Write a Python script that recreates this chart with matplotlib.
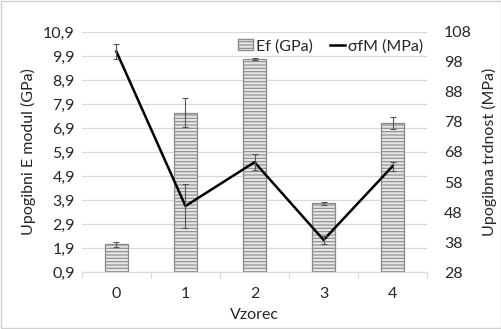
import matplotlib.pyplot as plt
import matplotlib.patches as mpatches
from matplotlib.lines import Line2D
import numpy as np

plt.rcParams["font.family"] = ["Lato", "DejaVu Sans"]
plt.rcParams["hatch.color"] = "#9a9a9a"
plt.rcParams["hatch.linewidth"] = 0.8

samples = ["0", "1", "2", "3", "4"]
ef_gpa = [2.05, 7.54, 9.78, 3.76, 7.12]
ef_err = [0.12, 0.61, 0.03, 0.05, 0.25]
sigma_mpa = [101.5, 50.0, 64.6, 38.7, 63.3]
sigma_err = [2.4, 7.2, 2.7, 1.3, 1.5]

left_ticks = [0.9 + i for i in range(11)]
right_ticks = [28 + 10 * i for i in range(9)]

text_color = "#262626"
grid_color = "#d9d9d9"

fig = plt.figure(figsize=(5.02, 3.29), dpi=100)
fig.patches.append(mpatches.Rectangle((0.002, 0.003), 0.996, 0.994, transform=fig.transFigure,
                                      fill=False, edgecolor="#d0d0d0", linewidth=1.0))
ax = fig.add_axes([0.163, 0.173, 0.688, 0.730])
ax2 = ax.twinx()

x = np.arange(len(samples))
ax.bar(x, ef_gpa, width=0.33, bottom=0, color="#e6e6e6", edgecolor="#8a8a8a",
       linewidth=0.9, hatch="-----", zorder=2)
ax.errorbar(x, ef_gpa, yerr=ef_err, fmt="none", ecolor="#555555", elinewidth=0.8,
            capsize=2, capthick=0.8, zorder=3)

ax2.plot(x, sigma_mpa, color="black", linewidth=1.8, zorder=4)
ax2.errorbar(x, sigma_mpa, yerr=sigma_err, fmt="none", ecolor="#555555", elinewidth=0.8,
             capsize=2, capthick=0.8, zorder=5)

ax.set_xlim(-0.5, len(samples) - 0.5)
ax.set_ylim(0.9, 10.9)
ax2.set_ylim(28, 108)
ax.set_yticks(left_ticks)
ax.set_yticklabels([f"{v:.1f}".replace(".", ",") for v in left_ticks])
ax2.set_yticks(right_ticks)
ax.set_xticks(x)
ax.set_xticklabels(samples)
ax.set_xticks(np.arange(len(samples) + 1) - 0.5, minor=True)

ax.grid(axis="y", color=grid_color, linewidth=0.9, zorder=0)
ax.set_axisbelow(True)
for a in (ax, ax2):
    for side in ("top", "left", "right"):
        a.spines[side].set_visible(False)
    a.spines["bottom"].set_color(grid_color)
    a.tick_params(axis="y", length=0, labelsize=11.5, colors=text_color, pad=5)
ax2.tick_params(axis="y", pad=12)
ax.tick_params(axis="x", which="major", length=0, labelsize=11.5, colors=text_color, pad=11)
ax.tick_params(axis="x", which="minor", length=4, color=grid_color, width=0.9)

ax.set_xlabel("Vzorec", fontsize=11.5, color=text_color, labelpad=5)
ax.set_ylabel("Upogibni E modul (GPa)", fontsize=11.5, color=text_color, labelpad=5)
ax2.set_ylabel("Upogibna trdnost (MPa)", fontsize=11.5, color=text_color, labelpad=7)

handles = [
    mpatches.Patch(facecolor="#e6e6e6", edgecolor="#8a8a8a", hatch="-----", label="Ef (GPa)"),
    Line2D([0], [0], color="black", linewidth=1.8, label="σfM (MPa)"),
]
ax2.legend(handles=handles, loc="upper center", bbox_to_anchor=(0.72, 1.03), ncol=2,
           frameon=False, fontsize=11.5, handlelength=0.9, handletextpad=0.2,
           columnspacing=1.1, labelcolor=text_color)

fig.savefig("out.png", dpi=100)
